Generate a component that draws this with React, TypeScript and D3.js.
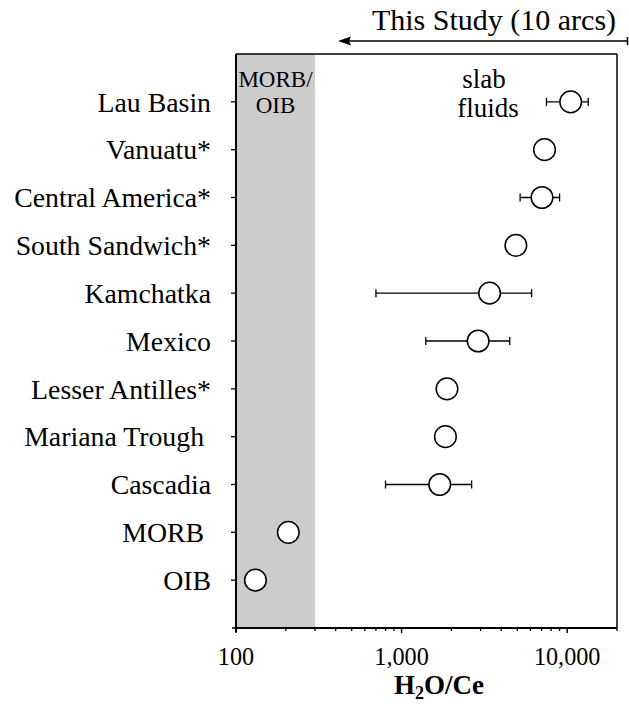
import React from "react";
import * as d3 from "d3";

const categories = [
  "Lau Basin",
  "Vanuatu*",
  "Central America*",
  "South Sandwich*",
  "Kamchatka",
  "Mexico",
  "Lesser Antilles*",
  "Mariana Trough ",
  "Cascadia",
  "MORB ",
  "OIB",
];
const values = [10500, 7300, 7050, 4900, 3400, 2900, 1880, 1840, 1700, 207, 131];
const errLow: (number | null)[] = [7500, null, 5200, null, 700, 1400, null, null, 800, null, null];
const errHigh: (number | null)[] = [13400, null, 9000, null, 6100, 4500, null, null, 2650, null, null];
const majorTicks = [100, 1000, 10000];
const majorTickLabels = ["100", "1,000", "10,000"];
const minorTicks = [200, 300, 400, 500, 600, 700, 800, 900, 2000, 3000, 4000, 5000, 6000, 7000, 8000, 9000, 20000];
const xDomain = [100, 20000];
const mantleRange = [100, 300];

const W = 629;
const H = 709;
const left = 236;
const right = 617;
const top = 54;
const bottom = 628;
const FONT = '"Liberation Serif", "Times New Roman", serif';

export default function App() {
  const x = d3.scaleLog().domain(xDomain).range([left, right]);
  const y = d3.scalePoint<string>().domain(categories).range([top, bottom]).padding(1);

  return (
    <svg
      width={W}
      height={H}
      style={{ position: "absolute", left: 0, top: 0, display: "block", background: "#fff" }}
      fontFamily={FONT}
    >
      <rect x={0} y={0} width={W} height={H} fill="#fff" />
      {/* grey MORB/OIB band */}
      <rect
        x={x(mantleRange[0])}
        y={top}
        width={x(mantleRange[1]) - x(mantleRange[0])}
        height={bottom - top}
        fill="#cccccc"
      />
      {/* frame top & right */}
      <line x1={left} x2={right} y1={top} y2={top} stroke="#000" strokeWidth={1.5} />
      <line x1={right} x2={right} y1={top} y2={bottom} stroke="#000" strokeWidth={1.5} />

      {/* error bars & points */}
      {categories.map((c, i) => {
        const cy = y(c)!;
        const lo = errLow[i];
        const hi = errHigh[i];
        return (
          <g key={c}>
            {lo != null && hi != null && (
              <g stroke="#000" strokeWidth={1.3}>
                <line x1={x(lo)} x2={x(hi)} y1={cy} y2={cy} />
                <line x1={x(lo)} x2={x(lo)} y1={cy - 4} y2={cy + 4} />
                <line x1={x(hi)} x2={x(hi)} y1={cy - 4} y2={cy + 4} />
              </g>
            )}
            <circle cx={x(values[i])} cy={cy} r={10.8} fill="#fff" stroke="#000" strokeWidth={1.5} />
          </g>
        );
      })}

      {/* left axis */}
      <line x1={left} x2={left} y1={top} y2={bottom + 4} stroke="#000" strokeWidth={2} />
      {categories.map((c) => (
        <line key={"t" + c} x1={left - 5} x2={left} y1={y(c)!} y2={y(c)!} stroke="#000" strokeWidth={1.3} />
      ))}
      <line x1={left - 4} x2={left} y1={bottom} y2={bottom} stroke="#000" strokeWidth={1.5} />
      {categories.map((c) => (
        <text
          key={"l" + c}
          x={211}
          y={y(c)!}
          dy="0.35em"
          textAnchor="end"
          fontSize={27.8}
          fill="#000"
          style={{ whiteSpace: "pre" }}
        >
          {c}
        </text>
      ))}

      {/* bottom axis */}
      <line x1={left} x2={right} y1={bottom} y2={bottom} stroke="#000" strokeWidth={2} />
      {majorTicks.map((t, i) => (
        <g key={"m" + t}>
          <line x1={x(t)} x2={x(t)} y1={bottom} y2={bottom + 5} stroke="#000" strokeWidth={1.5} />
          <text x={x(t)} y={664.5} textAnchor="middle" fontSize={24.2} fill="#000">
            {majorTickLabels[i]}
          </text>
        </g>
      ))}
      {minorTicks.map((t) => (
        <line key={"n" + t} x1={x(t)} x2={x(t)} y1={bottom} y2={bottom + 3} stroke="#000" strokeWidth={1.3} />
      ))}
      <text x={439} y={694} textAnchor="middle" fontSize={27} fontWeight="bold" fill="#000">
        H<tspan fontSize={18} dy={5}>2</tspan>
        <tspan dy={-5}>O/Ce</tspan>
      </text>

      {/* annotations */}
      <text x={(x(mantleRange[0]) + x(mantleRange[1])) / 2} y={87} textAnchor="middle" fontSize={23} fill="#000">
        MORB/
      </text>
      <text x={(x(mantleRange[0]) + x(mantleRange[1])) / 2} y={112.5} textAnchor="middle" fontSize={23} fill="#000">
        OIB
      </text>
      <text x={484} y={88} textAnchor="middle" fontSize={27} fill="#000">
        slab
      </text>
      <text x={488} y={117} textAnchor="middle" fontSize={27} fill="#000">
        fluids
      </text>

      {/* This Study arrow */}
      <line x1={344} x2={627} y1={41} y2={41} stroke="#000" strokeWidth={1.5} />
      <path d="M338,41 L351,36.5 L349,41 L351,45.5 Z" fill="#000" />
      <line x1={627.5} x2={627.5} y1={37} y2={45} stroke="#000" strokeWidth={1.5} />
      <text x={494} y={30} textAnchor="middle" fontSize={30} fill="#000">
        This Study (10 arcs)
      </text>
    </svg>
  );
}
